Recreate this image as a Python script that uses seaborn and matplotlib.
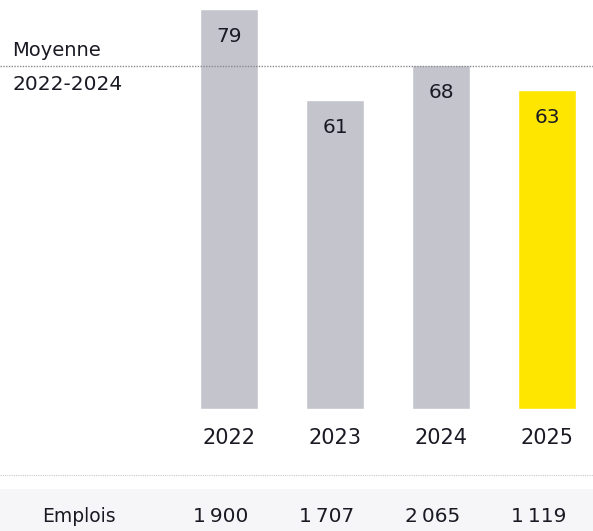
import matplotlib
matplotlib.use("Agg")
import matplotlib.pyplot as plt
import matplotlib.transforms as mtransforms
from matplotlib.patches import Rectangle
import seaborn as sns
import pandas as pd

# Data
years = ["2022", "2023", "2024", "2025"]
values = [79, 61, 68, 63]
emplois = ["1\u202f900", "1\u202f707", "2\u202f065", "1\u202f119"]
moyenne = 67.7
bar_colors = ["#C4C4CD", "#C4C4CD", "#C4C4CD", "#FFE600"]

sns.set_theme(style="white")
plt.rcParams["font.family"] = ["DejaVu Sans"]
TEXT = "#1A1A24"

W, H, DPI = 593, 531, 100
fig = plt.figure(figsize=(W / DPI, H / DPI), dpi=DPI)
fig.patch.set_facecolor("white")

# Axes spanning the whole canvas; limits chosen so bars sit in the layout
ax = fig.add_axes([0, 0, 1, 1])
px_per_cat = 106.0
x0_px = 229.0
px_per_unit = 400.0 / 79.0
base_px_from_bottom = H - 409.0

df = pd.DataFrame({"year": years, "value": values})
sns.barplot(data=df, x="year", y="value", hue="year",
            palette=dict(zip(years, bar_colors)), legend=False,
            width=0.55, saturation=1, ax=ax)

ax.set_xlim(-x0_px / px_per_cat, (W - x0_px) / px_per_cat)
ax.set_ylim(-base_px_from_bottom / px_per_unit, (H - base_px_from_bottom) / px_per_unit)
ax.axis("off")

# Value labels inside the bars
for i, v in enumerate(values):
    ax.annotate(str(v), (i, v), xytext=(0, -20), textcoords="offset points",
                ha="center", va="center", fontsize=14.5, color=TEXT)

# Average line across the full width
ax.axhline(moyenne, color="#8A8A92", lw=1.0, ls=(0, (1, 1)), zorder=5)

def fy(px_top):
    return 1 - px_top / H

def fx(px):
    return px / W

fig.text(fx(12), fy(50), "Moyenne", ha="left", va="center", fontsize=14, color=TEXT)
fig.text(fx(12), fy(84), "2022-2024", ha="left", va="center", fontsize=14.5, color=TEXT)

# Year labels below the bars
trans_year = mtransforms.blended_transform_factory(ax.transData, fig.transFigure)
for i, y in enumerate(years):
    ax.text(i, fy(438), y, transform=trans_year, ha="center", va="center",
            fontsize=15, color=TEXT)

# Separator and shaded table row
fig.add_artist(plt.Line2D([0, 1], [fy(475), fy(475)], transform=fig.transFigure,
                          color="#C8C8CE", lw=0.8, ls=(0, (1, 1))))
fig.add_artist(Rectangle((0, 0), 1, fy(489), transform=fig.transFigure,
                         facecolor="#F6F6F8", edgecolor="none", zorder=0))

fig.text(fx(42), fy(517), "Emplois", ha="left", va="center", fontsize=13.5, color=TEXT)
row_off = mtransforms.offset_copy(trans_year, fig=fig, x=-8, y=0, units="dots")
for i, e in enumerate(emplois):
    ax.text(i, fy(517), e, transform=row_off, ha="center", va="center",
            fontsize=14.5, color=TEXT)

fig.savefig("out.png", dpi=DPI, facecolor="white")
